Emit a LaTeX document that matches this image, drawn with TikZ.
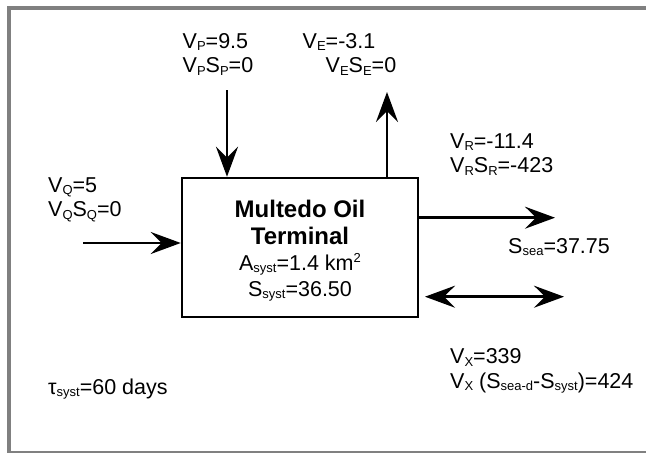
\documentclass[tikz,border=0pt]{standalone}
\usepackage{fontspec}
\setmainfont{Liberation Sans}
\usetikzlibrary{arrows.meta}
\definecolor{framegray}{HTML}{808080}
\newcommand{\subtxt}[1]{{\fontsize{13}{13}\selectfont\raisebox{-2.5pt}{#1}}}
\newcommand{\uptxt}[1]{{\fontsize{13}{13}\selectfont\raisebox{7.5pt}{#1}}}
\newcommand{\boldtitle}[1]{{\bfseries\fontsize{24}{27}\selectfont #1}}

\begin{document}
\begin{tikzpicture}[
  x=1pt,
  y=-1pt,
  line join=miter,
  >={Stealth[length=30pt,width=22pt,inset=11pt]},
  frame/.style={draw=framegray,line width=4pt},
  flow/.style={draw=black,line width=2.5pt},
  sysbox/.style={draw=black,line width=2.5pt,minimum width=236pt,minimum height=139pt,
    inner sep=0pt,align=center,font=\fontsize{21.5}{26}\selectfont},
  flowtext/.style={anchor=west,inner sep=0pt,align=left,font=\fontsize{21.5}{24.5}\selectfont}
]
  % Keep the frame of the original figure.
  \useasboundingbox (0,0) rectangle (646,453);
  \draw[frame] (646,8) -- (9,8) -- (9,453);
  \draw[frame,line width=2pt] (9,451.8) -- (646,451.8);

  % The terminal as one box.
  \node[sysbox] (terminal) at (300,247.5)
    {\boldtitle{\rule{0pt}{24pt}Multedo Oil}\\[1pt]\boldtitle{Terminal}\\
     A\subtxt{syst}=1.4 km\uptxt{2}\\S\subtxt{syst}=36.50};

  % Free ends of the fluxes.
  \coordinate (precipTop) at (227,90);
  \coordinate (evapTop) at (387,92);
  \coordinate (inflowStart) at (83,243);
  \coordinate (outflowEnd) at (555,217.7);
  \coordinate (exchLeft) at (425,296.7);
  \coordinate (exchRight) at (564,296.7);

  % Flux arrows.
  \draw[flow,->] (precipTop) -- (precipTop |- terminal.north);
  \draw[flow,->] (evapTop |- terminal.north) -- (evapTop);
  \draw[flow,->] (inflowStart) -- (inflowStart -| terminal.west);
  \draw[flow,->] (outflowEnd -| terminal.east) -- (outflowEnd);
  \draw[flow,<->] (exchLeft) -- (exchRight);

  % Flux values.
  \node[flowtext] (precipLabel) at (182.5,54)
    {V\subtxt{P}=9.5\\V\subtxt{P}S\subtxt{P}=0};
  \node[flowtext] (evapLabel) at (302.5,54)
    {V\subtxt{E}=-3.1\\\hspace*{23pt}V\subtxt{E}S\subtxt{E}=0};
  \node[flowtext] (residLabel) at (450,154.5)
    {V\subtxt{R}=-11.4\\V\subtxt{R}S\subtxt{R}=-423};
  \node[flowtext] (inflowLabel) at (48,199.5)
    {V\subtxt{Q}=5\\V\subtxt{Q}S\subtxt{Q}=0};
  \node[flowtext] (seaLabel) at (508,247) {S\subtxt{sea}=37.75};
  \node[flowtext] (exchLabel) at (450,371)
    {V\subtxt{X}=339\\V\subtxt{X} (S\subtxt{sea-d}-S\subtxt{syst})=424};
  \node[flowtext] (tauLabel) at (48,389) {τ\subtxt{syst}=60 days};
\end{tikzpicture}
\end{document}
